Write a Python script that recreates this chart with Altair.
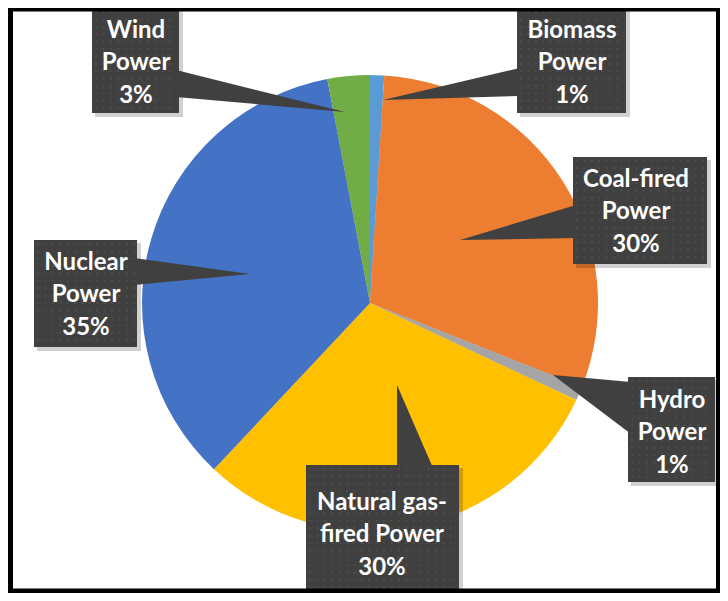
import altair as alt
import pandas as pd

# ---------------- data ----------------
categories = ["Biomass Power", "Coal-fired Power", "Hydro Power",
              "Natural gas-fired Power", "Nuclear Power", "Wind Power"]
shares = [1, 30, 1, 30, 35, 3]
label_lines = [["Biomass", "Power"], ["Coal-fired", "Power"], ["Hydro", "Power"],
               ["Natural gas-", "fired Power"], ["Nuclear", "Power"], ["Wind", "Power"]]
colors = ["#5B9BD5", "#ED7D31", "#A5A5A5", "#FFC000", "#4472C4", "#70AD47"]

# ---------------- layout (page pixels) ----------------
W, H = 712, 585
OFF = 8
CX, CY, R = 370, 303, 228

boxes = {  # x0, x1, y0, y1
    "Biomass Power": (517, 626, 8, 113),
    "Coal-fired Power": (573, 707, 157, 264),
    "Hydro Power": (628, 715, 377, 482),
    "Natural gas-fired Power": (306, 459, 465, 600),
    "Nuclear Power": (34, 137, 240, 347),
    "Wind Power": (92, 179, 8, 113),
}
text_pos = {  # centre x, centre y of middle line
    "Biomass Power": (572, 63),
    "Coal-fired Power": (636, 212),
    "Hydro Power": (672, 433),
    "Natural gas-fired Power": (382, 535),
    "Nuclear Power": (86, 295),
    "Wind Power": (136, 63),
}
# side wedges: base x, base y0, base y1, apex x, apex y
side_wedges = {
    "Biomass Power": (520, 68, 96, 383, 100),
    "Coal-fired Power": (576, 205, 238, 460, 240),
    "Hydro Power": (631, 382, 434, 553, 375),
    "Nuclear Power": (134, 258, 285, 250, 274),
    "Wind Power": (176, 70, 97, 345, 112),
}
# vertical wedges: base y, base x0, base x1, apex x, apex y
up_wedges = {
    "Natural gas-fired Power": (468, 397, 433, 397, 385),
}
LINE_H = 32.5
DOT = 7.4

# ---------------- tables ----------------
pie_df = pd.DataFrame({"category": categories, "share": shares,
                       "idx": list(range(len(categories)))})

box_rows, shadow_rows, text_rows, wedge_rows, up_rows, dot_rows = [], [], [], [], [], []
for cat, lines, sh in zip(categories, label_lines, shares):
    x0, x1, y0, y1 = boxes[cat]
    box_rows.append({"category": cat, "x": x0, "x2": x1, "y": y0, "y2": y1})
    shadow_rows.append({"category": cat, "x": x0 + 3, "x2": x1 + 4, "y": y0 + 3, "y2": y1 + 4})
    tx, ty = text_pos[cat]
    all_lines = lines + [f"{sh}%"]
    for i, t in enumerate(all_lines):
        text_rows.append({"category": cat, "x": tx, "y": ty + (i - 1) * LINE_H, "t": t})
    # texture dots
    yy = y0 + 4
    while yy < y1 - 2:
        xx = x0 + 4
        while xx < x1 - 2:
            dot_rows.append({"x": xx, "y": yy})
            xx += DOT
        yy += DOT
for cat, (xb, yb0, yb1, xa, ya) in side_wedges.items():
    wedge_rows.append({"category": cat, "x": xb, "y": yb0, "y2": yb1})
    wedge_rows.append({"category": cat, "x": xa, "y": ya, "y2": ya})
for cat, (yb, xb0, xb1, xa, ya) in up_wedges.items():
    up_rows.append({"category": cat, "y": yb, "x": xb0, "x2": xb1})
    up_rows.append({"category": cat, "y": ya, "x": xa, "x2": xa})

xs = alt.Scale(domain=[OFF, OFF + W], nice=False, zero=False)
ys = alt.Scale(domain=[OFF, OFF + H], nice=False, zero=False, reverse=True)

# soft pie shadow
shadow_df = pd.DataFrame({"r": [229, 232, 235, 238, 241]})
shadow_df["s"] = 3.14159 * shadow_df["r"] ** 2
pie_shadow = alt.Chart(shadow_df).mark_circle(color="#000000", opacity=0.035).encode(
    x=alt.value(CX - 6 - OFF), y=alt.value(CY + 8 - OFF),
    size=alt.Size("s:Q", scale=None, legend=None),
)

pie = alt.Chart(pie_df).mark_arc(outerRadius=R).encode(
    theta=alt.Theta("share:Q", stack=True),
    color=alt.Color("category:N", scale=alt.Scale(domain=categories, range=colors), legend=None),
    order=alt.Order("idx:Q"),
    x=alt.value(CX - OFF), y=alt.value(CY - OFF),
)

box_shadow = alt.Chart(pd.DataFrame(shadow_rows)).mark_rect(color="#000000", opacity=0.18).encode(
    x=alt.X("x:Q", scale=xs, axis=None), x2="x2:Q",
    y=alt.Y("y:Q", scale=ys, axis=None), y2="y2:Q",
)

wedges = alt.Chart(pd.DataFrame(wedge_rows)).mark_area(color="#404040", orient="vertical", opacity=1).encode(
    x=alt.X("x:Q", scale=xs, axis=None),
    y=alt.Y("y:Q", scale=ys, axis=None), y2="y2:Q",
    detail="category:N",
)
up = alt.Chart(pd.DataFrame(up_rows)).mark_area(color="#404040", orient="horizontal", opacity=1).encode(
    y=alt.Y("y:Q", scale=ys, axis=None),
    x=alt.X("x:Q", scale=xs, axis=None), x2="x2:Q",
    detail="category:N",
)

box = alt.Chart(pd.DataFrame(box_rows)).mark_rect(color="#404040").encode(
    x=alt.X("x:Q", scale=xs, axis=None), x2="x2:Q",
    y=alt.Y("y:Q", scale=ys, axis=None), y2="y2:Q",
)

dots = alt.Chart(pd.DataFrame(dot_rows)).mark_square(
    size=3, color="#6a6a6a", opacity=0.4, filled=True, strokeWidth=0,
).encode(
    x=alt.X("x:Q", scale=xs, axis=None),
    y=alt.Y("y:Q", scale=ys, axis=None),
)

labels = alt.Chart(pd.DataFrame(text_rows)).mark_text(
    font="Lato", fontWeight="bold", fontSize=24, color="white",
    align="center", baseline="middle",
).encode(
    x=alt.X("x:Q", scale=xs, axis=None),
    y=alt.Y("y:Q", scale=ys, axis=None),
    text="t:N",
)

frame = alt.Chart(pd.DataFrame({"x": [10.5], "x2": [718.5], "y": [9], "y2": [591]})).mark_rect(
    filled=False, stroke="#000000", strokeWidth=5,
).encode(
    x=alt.X("x:Q", scale=xs, axis=None), x2="x2:Q",
    y=alt.Y("y:Q", scale=ys, axis=None), y2="y2:Q",
)

chart = alt.layer(pie_shadow, pie, box_shadow, wedges, up, box, dots, labels, frame).properties(
    width=W, height=H, padding=0, autosize=alt.AutoSizeParams(type="none"),
    background="white",
).configure_view(stroke=None)

chart.save("out.html", embed_options={"renderer": "svg", "actions": False})
